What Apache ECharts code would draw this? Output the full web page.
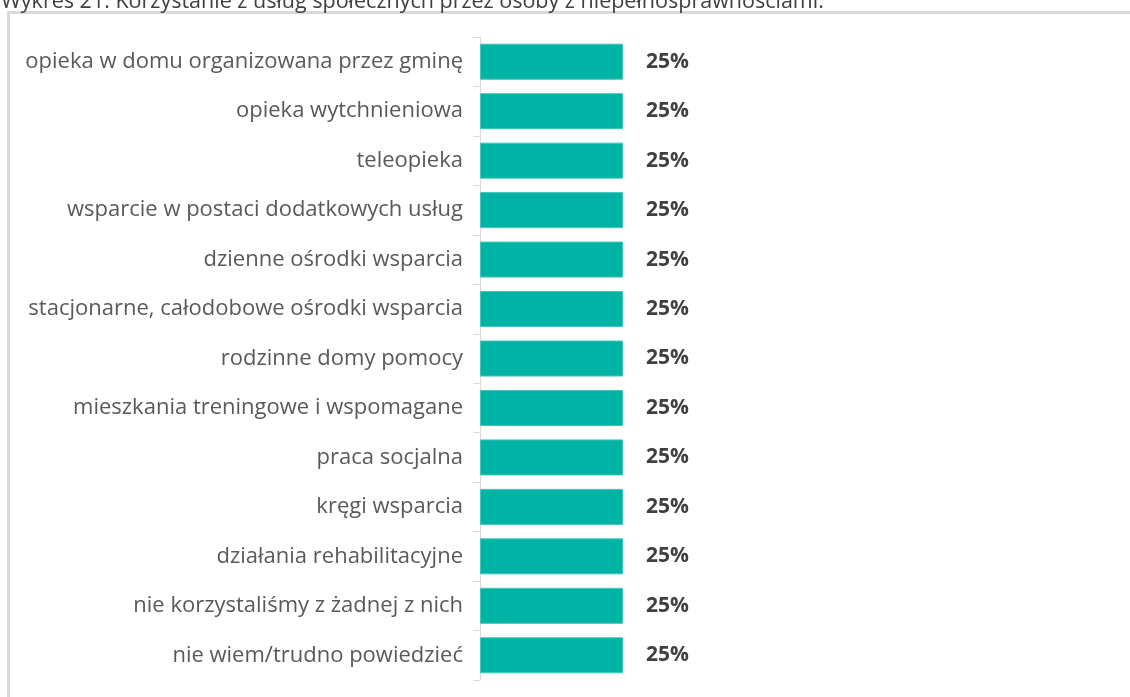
<!DOCTYPE html>
<html>
<head>
<meta charset="utf-8">
<script src="https://cdn.jsdelivr.net/npm/echarts@6/dist/echarts.min.js"></script>
<style>
  html, body { margin: 0; padding: 0; background: #fff; }
  #main { width: 1130px; height: 697px; }
</style>
</head>
<body>
<div id="main"></div>
<script>
// categories, top to bottom
const categories = [
  'opieka w domu organizowana przez gminę',
  'opieka wytchnieniowa',
  'teleopieka',
  'wsparcie w postaci dodatkowych usług',
  'dzienne ośrodki wsparcia',
  'stacjonarne, całodobowe ośrodki wsparcia',
  'rodzinne domy pomocy',
  'mieszkania treningowe i wspomagane',
  'praca socjalna',
  'kręgi wsparcia',
  'działania rehabilitacyjne',
  'nie korzystaliśmy z żadnej z nich',
  'nie wiem/trudno powiedzieć'
];
const values = [25, 25, 25, 25, 25, 25, 25, 25, 25, 25, 25, 25, 25];
const titleText = 'Wykres 21. Korzystanie z usług społecznych przez osoby z niepełnosprawnościami.';

const font = 'Open Sans';
const chart = echarts.init(document.getElementById('main'));

chart.setOption({
  animation: false,
  title: {
    text: titleText,
    left: -4,
    top: -14,
    textStyle: { fontFamily: font, fontSize: 21.5, fontWeight: 'normal', color: '#404040' }
  },
  graphic: [
    { type: 'line', shape: { x1: 7, y1: 12.5, x2: 1130, y2: 12.5 }, style: { stroke: '#d9d9d9', lineWidth: 3 } },
    { type: 'line', shape: { x1: 8.5, y1: 11, x2: 8.5, y2: 697 }, style: { stroke: '#d9d9d9', lineWidth: 3 } }
  ],
  grid: { left: 480, top: 37, bottom: 17, right: 78 },
  xAxis: {
    type: 'value',
    min: 0,
    max: 100,
    show: false
  },
  yAxis: {
    type: 'category',
    inverse: true,
    offset: 2,
    data: categories,
    axisLine: { lineStyle: { color: '#d9d9d9' } },
    axisTick: { show: true, length: 7, lineStyle: { color: '#d9d9d9' } },
    axisLabel: { margin: 15, color: '#595959', fontFamily: font, fontSize: 22 }
  },
  series: [{
    type: 'bar',
    data: values,
    barWidth: 36,
    itemStyle: { color: '#00b3a5', borderColor: '#3ec6b9', borderWidth: 1 },
    label: {
      show: true,
      position: 'right',
      distance: 23,
      formatter: '{c}%',
      color: '#404040',
      fontFamily: font,
      fontWeight: 'bold',
      fontSize: 21
    }
  }]
});
</script>
</body>
</html>
